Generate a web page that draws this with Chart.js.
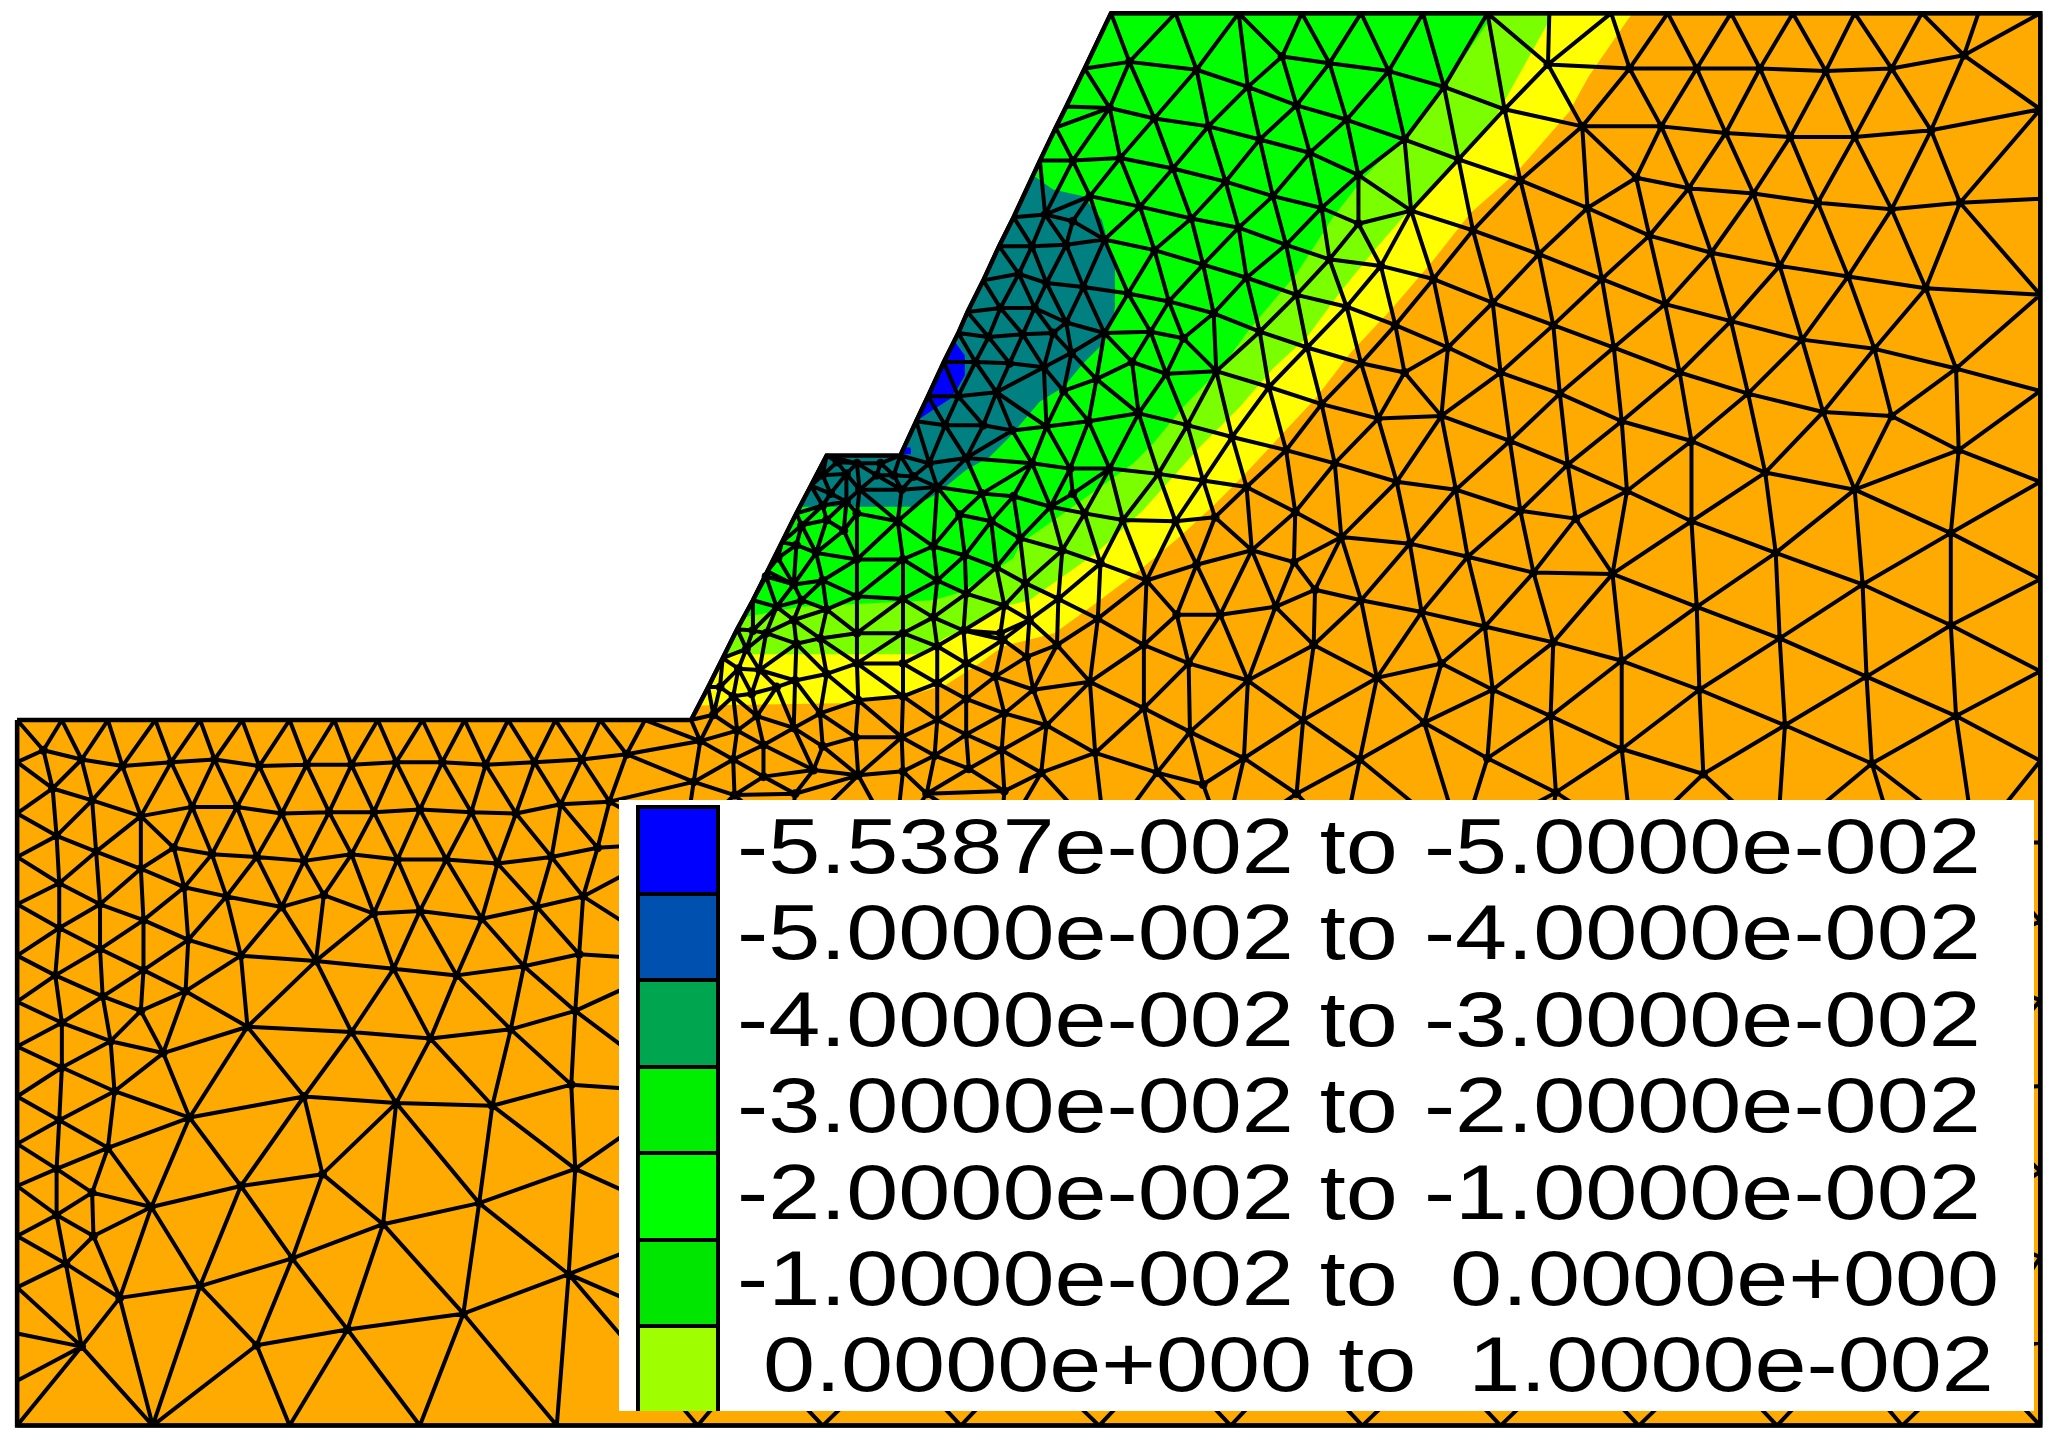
<!DOCTYPE html>
<html>
<head>
<meta charset="utf-8">
<title>Slope contour</title>
<script src="https://cdn.jsdelivr.net/npm/chart.js@4"></script>
<style>
  html, body { margin:0; padding:0; background:#fff; }
  #wrap { position:relative; width:2064px; height:1444px; overflow:hidden; }
  #legend { position:absolute; left:619px; top:800px; width:1415px; height:611px; background:#fff; overflow:hidden; }
  #legend .sw { position:absolute; left:17px; width:76px; height:82.5px; border:4px solid #000; box-sizing:content-box; }
  #legend .tx { position:absolute; left:118px; font:78px/87px "Liberation Sans", Arial, sans-serif; color:#000; white-space:pre; transform:scaleX(1.2); transform-origin:0 0; }
</style>
</head>
<body>
<div id="wrap">
  <canvas id="mesh" width="2064" height="1444"></canvas>
  <div id="legend"></div>
</div>
<script>
// legend
const legendLabels = [
  '-5.5387e-002 to -5.0000e-002',
  '-5.0000e-002 to -4.0000e-002',
  '-4.0000e-002 to -3.0000e-002',
  '-3.0000e-002 to -2.0000e-002',
  '-2.0000e-002 to -1.0000e-002',
  '-1.0000e-002 to  0.0000e+000',
  ' 0.0000e+000 to  1.0000e-002'
];
const legendColors = ['#0000ff','#0050b0','#00a550','#00ee00','#00ff00','#00e600','#9fff00'];

// section outline
const outline = [[13,547],[525,547],[538,522],[549,500],[560,478],[572,456],[583,434],[594,412],[605,390],[616,369],[628,346],[684,346],
  [696,320],[705,301],[717,275],[728,253],[735,237],[747,213],[759,187],[770,165],[790,122],[802,97],[810,81],[824,52],[844,10],
  [1550,10],[1550,1083],[13,1083]];

// contour bands, painted on top of each other
const bandOrange = outline;
const bandYellow = [[1240,10],[1207,58],[1192,85],[1152,131],[1117,162],[1087,200],[1057,235],[1026,268],[1000,302],[972,332],[944,362],[922,384],[896,408],[866,433],[833,458],[801,481],[762,491],[744,504],[719,520],[689,529],[650,534],[531,536],[628,346],[684,346],[844,10]];
const bandLime = [[1180,10],[1135,91],[1106,123],[1072,158],[1045,189],[1018,222],[993,256],[967,280],[942,309],[912,339],[894,359],[868,388],[833,420],[803,441],[782,456],[757,462],[739,476],[719,484],[699,497],[552,497],[628,346],[684,346],[844,10]];
const bandGreen = [[1135,10],[1098,64],[1070,100],[1036,135],[1012,166],[985,208],[962,235],[947,253],[929,278],[899,309],[876,337],[861,352],[836,370],[808,390],[775,413],[770,424],[730,450],[709,456],[608,461],[565,469],[628,346],[684,346],[844,10]];
const bandTeal = [[786,134],[800,144],[823,149],[837,167],[847,203],[847,233],[845,246],[836,263],[823,276],[808,294],[790,305],[767,332],[752,347],[734,357],[712,375],[694,385],[608,385],[628,346],[684,346]];
const bandBlue = [[725,259],[733,270],[733,285],[728,294],[722,303],[711,310],[699,318],[696,319]];
const bandBlueFleck = [[686,340],[692,340],[692,345],[684,345]];
const bandColors = { orange:'#ffaa00', yellow:'#ffff00', lime:'#7aff00', green:'#00ff00', teal:'#008080', blue:'#0000ff' };

// mesh nodes, left block
const leftNodes = [[47,547],[82,547],[118,547],[152,547],[184,547],[220,547],[254,547],[287,547],[321,547],[353,547],[386,547],[422,547],[456,547],[490,547],
  [33,570],[62,577],[93,582],[130,579],[163,577],[197,582],[233,581],[267,581],[301,579],[336,579],[369,581],[406,579],[442,577],[476,573],
  [40,599],[70,608],[107,620],[146,613],[180,613],[214,618],[250,617],[284,617],[319,615],[358,617],[392,618],[426,611],[463,609],
  [43,635],[73,647],[132,644],[161,649],[195,651],[231,654],[267,649],[302,653],[339,653],[378,656],[419,651],[454,644],
  [45,671],[107,660],[140,674],[172,681],[214,689],[246,680],[284,694],[319,692],[366,698],[408,689],[443,681],
  [45,705],[76,687],[109,699],[143,714],[183,726],[240,730],[299,736],[347,741],[398,734],[440,725],
  [76,721],[109,737],[42,741],[78,757],[141,753],[107,768],[47,777],[84,791],[124,800],[188,780],[267,784],[327,789],[388,782],[437,768],
  [47,811],[87,829],[144,849],[231,833],[301,838],[374,840],[434,824],
  [45,851],[82,872],[183,901],[245,892],[364,914],[437,888],
  [43,888],[70,906],[115,917],[291,930],[222,956],[432,968],
  [43,923],[71,939],[50,960],[152,977],[91,986],[264,1010],[352,998],
  [62,1023],[195,1022],[116,1083],[220,1083],[319,1083],[423,1083],
  [13,579],[13,618],[13,651],[13,687],[13,726],[13,761],[13,795],[13,833],[13,869],[13,901],[13,939],[13,978],[13,1013],[13,1049]];

// mesh nodes, upper slope
const upperNodes = [[893,10],[941,10],[989,10],
  [858,47],[909,53],[948,66],[974,43],[985,80],
  [843,82],[877,90],[918,96],[957,106],
  [815,122],[851,120],[891,128],[931,138],[967,149],
  [828,149],[866,157],[905,166],[941,173],[977,186],
  [794,163],[815,168],[839,182],[877,190],[914,201],[947,211],[985,224],
  [784,187],[810,186],[823,218],[857,223],[888,229],[922,238],[957,252],
  [774,208],[795,215],[760,234],[786,234],[810,245],[839,253],[874,252],[899,257],
  [751,256],[777,254],[800,253],[814,268],[860,275],[886,284],[924,282],
  [741,275],[767,276],[793,279],[833,288],[964,294],
  [728,301],[757,298],[808,297],[827,320],[865,314],[902,323],[936,332],[795,324],
  [718,323],[747,323],[769,327]];

// mesh nodes, bench and lower slope
const benchNodes = [[636,351],[651,352],[669,352],[625,361],[643,360],[666,361],[679,361],[653,372],[685,372],[631,375],[643,381],[625,384],
  [706,352],[734,348],[712,370],[694,362],[746,375],[729,391],[753,396],[815,375],
  [682,396],[651,390],[609,399],[628,395],[641,403],
  [651,425],[686,425],[709,415],[733,422],[757,431],[620,420],[605,414],[591,424],[625,441],[603,444],[582,438],
  [651,453],[686,455],[712,441],[734,451],[763,460],[609,456],[603,471],[628,463],[590,461],
  [651,481],[686,481],[709,469],[732,479],[760,481],[623,485],[605,489],[582,481],[572,479],[567,493],
  [651,504],[686,504],[712,491],[734,504],[756,514],[780,499],[628,512],[604,517],[577,509],[561,508],
  [652,532],[686,529],[712,519],[734,531],[623,542],[575,544],[542,543],[560,555],
  [650,560],[685,560],[712,547],[734,558],[603,553],[625,567],[580,566],[532,563],
  [652,589],[686,586],[710,574],[736,584],[557,577],[580,590],[618,585],[527,594],[558,604],[604,603],[704,603],
  [547,522],[557,529],[571,527],[590,522]];

// mesh nodes, middle of the slope
const middleNodes = [[784,352],[813,356],[843,356],[880,360],[914,365],[947,370],[977,342],
  [770,377],[798,385],[824,390],[853,395],[893,396],[923,393],[984,389],
  [775,409],[807,418],[836,428],[909,429],[951,418],[983,427],
  [779,443],[804,455],[871,441],[969,461],
  [782,471],[834,470],[894,467],[927,467],
  [762,486],[803,490],[869,490],[903,504],[948,517],
  [785,524],[828,518],[763,542],[795,551],[869,538],[904,556],
  [761,570],[832,572],[945,576],[791,587],[879,587],[763,601],[914,596],[985,603]];

// mesh nodes, right block
const rightNodes = [[1034,10],[1081,10],[1130,10],[1177,10],[1224,10],[1267,10],[1315,10],[1362,10],[1409,10],[1460,10],[1503,10],
  [1010,48],[1055,54],[1097,66],[1176,49],[1238,52],[1289,52],[1337,52],[1387,54],[1437,52],[1492,42],[1550,83],
  [1023,91],[1067,106],[1143,83],[1202,96],[1262,96],[1311,101],[1360,104],[1409,104],[1467,99],
  [995,116],[1032,133],[1108,121],[1155,137],[1243,135],[1283,143],[1332,147],[1381,154],[1437,159],[1489,154],[1550,151],
  [1004,158],[1072,160],[1206,158],[1253,179],[1300,192],[1352,202],[1404,210],[1463,219],[1550,224],
  [1032,170],[1119,175],[1169,193],[1217,212],[1265,231],[1315,244],[1369,258],[1424,265],[1486,280],[1550,297],
  [1010,197],[1049,202],[1089,212],[1134,230],[1180,247],[1226,264],[1276,283],[1328,299],[1385,313],[1437,316],[1488,342],[1550,366],
  [1023,233],[1060,247],[1100,264],[1140,283],[1185,299],[1232,320],[1285,335],[1341,359],[1409,372],[1482,405],[1550,440],
  [993,264],[1034,276],[1067,283],[1095,316],[1147,335],[1191,353],[1236,373],[1285,396],[1349,420],[1415,444],[1482,475],[1550,510],
  [1004,307],[1047,318],[1014,352],[1061,366],[1106,372],[1155,388],[1197,394],[1225,436],[1165,435],[1115,423],[1071,413],[1019,408],
  [1289,461],[1352,485],[1418,514],[1486,544],[1550,578],
  [999,448],[1034,456],[1080,465],[1128,476],[1180,488],[1232,502],[1291,524],[1356,551],[1422,580],
  [998,490],[1046,515],[1095,504],[1134,524],[1178,544],[1232,569],[1294,588],
  [990,547],[1033,577],[1082,549],[1130,576],[1182,602]];

// mesh nodes behind the legend and along the bottom edge
const lowerNodes = [[530,1083],[625,1083],[730,1083],[835,1083],[935,1083],[1035,1083],[1140,1083],[1245,1083],[1350,1083],[1445,1083],
  [1550,640],[1550,700],[1550,760],[1550,825],[1550,890],[1550,955],[1550,1020],
  [575,1030],[680,1030],[780,1030],[885,1030],[985,1030],[1090,1030],[1195,1030],[1300,1030],[1400,1030],[1500,1030],
  [530,930],[640,930],[750,930],[860,930],[970,930],[1080,930],[1190,930],[1300,930],[1410,930],[1490,930],
  [520,830],[630,830],[740,830],[850,830],[960,830],[1070,830],[1180,830],[1290,830],[1400,830],[1490,830],
  [520,730],[620,730],[720,730],[830,730],[940,730],[1050,730],[1160,730],[1270,730],[1380,730],[1480,730],
  [520,640],[600,640],[680,640],[760,640],[840,640],[930,640],[1020,640],[1110,640],[1240,640],[1350,640],[1440,640],[1500,640]];

const nodeKeys = {};
const nodes = leftNodes.concat(upperNodes, benchNodes, middleNodes, rightNodes, lowerNodes, outline).filter(p=>{
  const k = p[0]+'_'+p[1];
  if(nodeKeys[k]) return false;
  nodeKeys[k] = 1;
  return true;
});

function insideOutline(px, py){
  let inside = false;
  for(let i=0, j=outline.length-1; i<outline.length; j=i++){
    const [xi,yi] = outline[i], [xj,yj] = outline[j];
    if((yi>py)!==(yj>py) && px < (xj-xi)*(py-yi)/(yj-yi)+xi) inside = !inside;
  }
  return inside;
}

// Delaunay (Bowyer-Watson) over the node list, keeps the triangles inside the section
function triangulate(pts){
  const all = pts.concat([[-9000,-9000],[12000,-9000],[1000,12000]]);
  const n = pts.length;
  let tris = [[n,n+1,n+2]];
  const inCircle = (t,p)=>{
    const [ax,ay]=all[t[0]], [bx,by]=all[t[1]], [cx,cy]=all[t[2]];
    const d = 2*(ax*(by-cy)+bx*(cy-ay)+cx*(ay-by));
    const ux = ((ax*ax+ay*ay)*(by-cy)+(bx*bx+by*by)*(cy-ay)+(cx*cx+cy*cy)*(ay-by))/d;
    const uy = ((ax*ax+ay*ay)*(cx-bx)+(bx*bx+by*by)*(ax-cx)+(cx*cx+cy*cy)*(bx-ax))/d;
    return (p[0]-ux)**2+(p[1]-uy)**2 < (ax-ux)**2+(ay-uy)**2;
  };
  pts.forEach((p,i)=>{
    const bad = [], keep = [];
    tris.forEach(t=> (inCircle(t,p)?bad:keep).push(t));
    const edges = {};
    bad.forEach(t=>{
      [[t[0],t[1]],[t[1],t[2]],[t[2],t[0]]].forEach(([a,b])=>{
        const k = a<b ? a+'_'+b : b+'_'+a;
        edges[k] = edges[k] ? null : [a,b];
      });
    });
    Object.values(edges).forEach(e=>{ if(e) keep.push([e[0],e[1],i]); });
    tris = keep;
  });
  return tris.filter(t=> t.every(v=> v<n)).filter(t=>{
    const cx = (pts[t[0]][0]+pts[t[1]][0]+pts[t[2]][0])/3;
    const cy = (pts[t[0]][1]+pts[t[1]][1]+pts[t[2]][1])/3;
    return insideOutline(cx,cy);
  });
}

const seen = {};
const meshLine = [];
triangulate(nodes).forEach(t=>{
  [[t[0],t[1]],[t[1],t[2]],[t[2],t[0]]].forEach(([a,b])=>{
    const k = a<b ? a+'_'+b : b+'_'+a;
    if(seen[k]) return;
    seen[k] = 1;
    meshLine.push({x:nodes[a][0],y:nodes[a][1]},{x:nodes[b][0],y:nodes[b][1]},{x:NaN,y:NaN});
  });
});

// blobs only where the node sits inside the section, not on its edge
const innerNodes = nodes.filter(p=> p[0]>13 && p[0]<1550 && p[1]>10 && p[1]<1083 && p[1]!==547 && !outline.includes(p));

const toPoints = arr => arr.map(p=> ({x:p[0],y:p[1]}));
const band = (pts,color,order)=> ({ data:toPoints(pts), showLine:true, fill:'shape', backgroundColor:color, borderWidth:0, pointRadius:0, order });

new Chart(document.getElementById('mesh'), {
  type: 'scatter',
  data: { datasets: [
    band(bandOrange, bandColors.orange, 10),
    band(bandYellow, bandColors.yellow, 9),
    band(bandLime, bandColors.lime, 8),
    band(bandGreen, bandColors.green, 7),
    band(bandTeal, bandColors.teal, 6),
    band(bandBlue, bandColors.blue, 5),
    band(bandBlueFleck, bandColors.blue, 4),
    { data:meshLine, showLine:true, spanGaps:false, borderColor:'#000', borderWidth:4, pointRadius:0, order:3 },
    { data:toPoints(innerNodes), showLine:false, backgroundColor:'#000', borderWidth:0, pointRadius:4.5, order:2 },
    { data:toPoints(outline.concat([outline[0]])), showLine:true, borderColor:'#000', borderWidth:4.5, pointRadius:0, order:1 }
  ]},
  options: {
    responsive:false, devicePixelRatio:1, animation:false, events:[],
    layout:{ padding:0, autoPadding:false },
    plugins:{ legend:{display:false}, tooltip:{enabled:false} },
    scales:{
      x:{ type:'linear', display:false, min:0, max:1568 },
      y:{ type:'linear', display:false, min:0, max:1097, reverse:true }
    }
  }
});

const legend = document.getElementById('legend');
legendLabels.forEach((t,i)=>{
  legend.insertAdjacentHTML('beforeend',
    `<div class="sw" style="top:${5+i*86.5}px;background:${legendColors[i]}"></div>` +
    `<div class="tx" style="top:${3+i*86.4}px">${t}</div>`);
});
</script>
</body>
</html>
